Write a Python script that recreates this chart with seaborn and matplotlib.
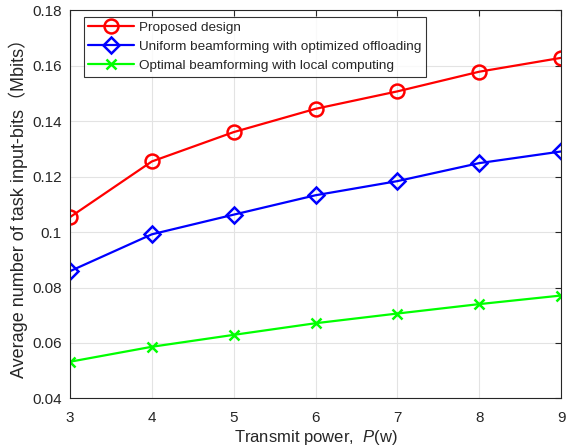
import numpy as np
import pandas as pd
import matplotlib
matplotlib.use("Agg")
import matplotlib.pyplot as plt
import seaborn as sns

# data
power = [3, 4, 5, 6, 7, 8, 9]
proposed = [0.1054, 0.1255, 0.1361, 0.1445, 0.1508, 0.1579, 0.1629]
uniform_bf = [0.0859, 0.0992, 0.1063, 0.1133, 0.1184, 0.1249, 0.1291]
local_comp = [0.0532, 0.0586, 0.0629, 0.0671, 0.0706, 0.0740, 0.0771]

labels = ["Proposed design",
          "Uniform beamforming with optimized offloading",
          "Optimal beamforming with local computing"]
colors = ["#ff0000", "#0000ff", "#00ff00"]
markers = ["o", "D", "x"]
msizes = [10, 8.5, 7]

sns.set_style("white")
plt.rcParams['font.family'] = ['Liberation Sans', 'Noto Sans CJK SC', 'DejaVu Sans']
plt.rcParams['mathtext.fontset'] = 'custom'
plt.rcParams['mathtext.it'] = 'Liberation Sans:italic'
plt.rcParams['mathtext.rm'] = 'Liberation Sans'

text_col = "#262626"

fig = plt.figure(figsize=(5.68, 4.48), dpi=100)
ax = fig.add_axes([70 / 568, 1 - 398.3 / 448, 491 / 568, 387.8 / 448])

for vals, lab, c, m, ms in zip([proposed, uniform_bf, local_comp], labels, colors, markers, msizes):
    df = pd.DataFrame({"P": power, "bits": vals})
    sns.lineplot(data=df, x="P", y="bits", ax=ax, color=c, marker=m,
                 markersize=ms, markerfacecolor="none", markeredgecolor=c,
                 markeredgewidth=1.8, linewidth=1.6, label=lab)

ax.set_xlim(3, 9)
ax.set_ylim(0.04, 0.18)
ax.set_xticks(power)
ax.set_yticks([0.04, 0.06, 0.08, 0.1, 0.12, 0.14, 0.16, 0.18])
ax.set_yticklabels(["0.04", "0.06", "0.08", "0.1", "0.12", "0.14", "0.16", "0.18"])
ax.grid(True, color="#e3e3e3", linewidth=0.8)
ax.set_axisbelow(True)
ax.tick_params(direction="in", length=4, width=0.8, colors=text_col,
               labelsize=11, top=True, right=True, pad=6)
ax.tick_params(axis="x", pad=9)
for s in ax.spines.values():
    s.set_color(text_col)
    s.set_linewidth(0.8)
    s.set_visible(True)

ax.set_xlabel("Transmit power,  $P$(w)", fontsize=12, color=text_col, labelpad=2)
ax.set_ylabel("Average number of task input-bits（Mbits）", fontsize=13,
              color=text_col, labelpad=3)

leg = ax.legend(loc="upper left", bbox_to_anchor=(0.028, 0.984), fontsize=9.7,
                frameon=True, fancybox=False, edgecolor="black",
                handlelength=3.4, handletextpad=0.35, borderpad=0.35,
                labelspacing=0.5, borderaxespad=0)
leg.get_frame().set_linewidth(0.8)

fig.savefig("out.png", dpi=100)
